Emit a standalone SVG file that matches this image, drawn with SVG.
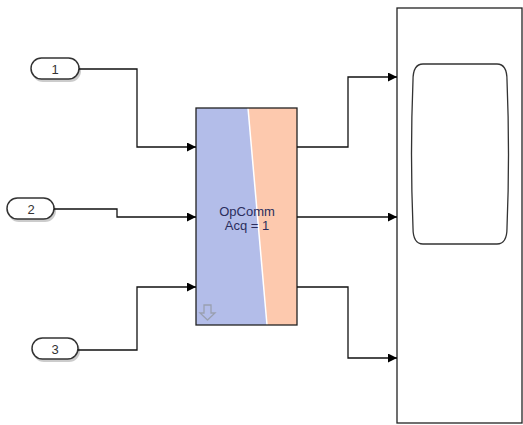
<svg xmlns="http://www.w3.org/2000/svg" width="523" height="425" viewBox="0 0 523 425">
<defs>
<style>
.pill{fill:#fff;stroke:#333;stroke-width:1.5}
.shadow{fill:#aaa;opacity:0.6}
.num{font-family:"Liberation Sans",Arial,sans-serif;font-size:13px;fill:#333;text-anchor:middle}
.wire{fill:none;stroke:#111;stroke-width:1.3}
.lbl{font-family:"Liberation Sans",Arial,sans-serif;font-size:13px;fill:#2b2d5c;text-anchor:middle}
</style>
<marker id="arr" viewBox="0 0 10 10" refX="10" refY="5" markerWidth="10" markerHeight="9" markerUnits="userSpaceOnUse" orient="auto">
<path d="M0,0 L10,5 L0,10 Z" fill="#000"/>
</marker>
</defs>
<rect width="523" height="425" fill="#fff"/>
<g id="in1">
<rect class="shadow" x="32" y="60" width="49" height="22" rx="11"/>
<rect class="pill" x="31" y="58" width="48" height="21" rx="10.5"/>
<text class="num" x="55" y="73.5">1</text>
</g>
<g id="in2">
<rect class="shadow" x="8" y="200" width="48" height="22" rx="11"/>
<rect class="pill" x="7" y="198" width="47" height="21" rx="10.5"/>
<text class="num" x="31" y="213.5">2</text>
</g>
<g id="in3">
<rect class="shadow" x="33" y="340" width="47" height="22" rx="11"/>
<rect class="pill" x="32" y="338" width="46" height="21" rx="10.5"/>
<text class="num" x="55" y="353.5">3</text>
</g>
<g id="opcomm">
<rect x="196" y="108" width="101" height="217" fill="#b3bde9"/>
<polygon points="248,108 297,108 297,325 267,325" fill="#fdc9ae"/>
<line x1="248" y1="108" x2="267" y2="325" stroke="#fff" stroke-width="1.5"/>
<rect x="196" y="108" width="101" height="217" fill="none" stroke="#222" stroke-width="1.3"/>
<text class="lbl" x="247" y="216">OpComm</text>
<text class="lbl" x="247" y="230">Acq = 1</text>
<path d="M204,305 h7 v8 h4 l-7.5,7 l-7.5,-7 h4 Z" fill="none" stroke="#9aa0b0" stroke-width="1.3"/>
</g>
<g id="scope">
<rect x="397" y="8" width="125" height="415" fill="#fff" stroke="#222" stroke-width="1.3"/>
<path d="M423,64 H497 Q507,64 507,80 Q510,154 507,228 Q507,244 497,244 H423 Q413,244 413,228 Q410,154 413,80 Q413,64 423,64 Z" fill="#fff" stroke="#333" stroke-width="1.3"/>
</g>
<g id="connectors">
<path class="wire" d="M79,69 H137 V147 H196" marker-end="url(#arr)"/>
<path class="wire" d="M54,209 H117 V217 H196" marker-end="url(#arr)"/>
<path class="wire" d="M78,350 H137 V287 H196" marker-end="url(#arr)"/>
<path class="wire" d="M297,147 H348 V77 H397" marker-end="url(#arr)"/>
<path class="wire" d="M297,217 H397" marker-end="url(#arr)"/>
<path class="wire" d="M297,287 H348 V358 H397" marker-end="url(#arr)"/>
</g>
</svg>
